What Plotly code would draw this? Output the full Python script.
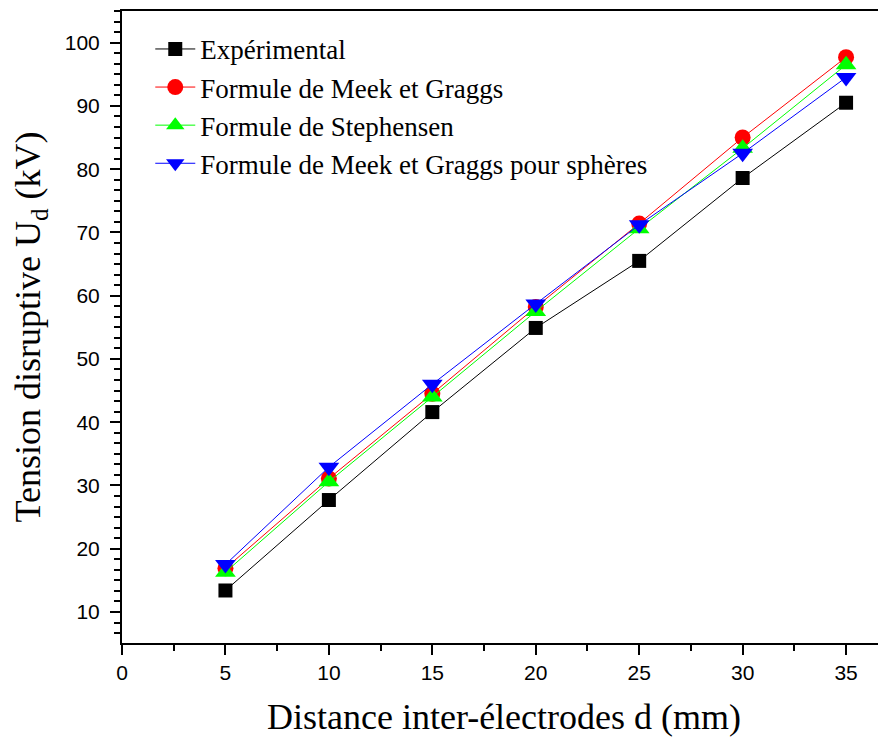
import plotly.graph_objs as go

distance = [5, 10, 15, 20, 25, 30, 35]
experimental = [13.4, 27.7, 41.6, 54.9, 65.5, 78.6, 90.5]
meek_graggs = [16.9, 31.1, 44.5, 58.2, 71.4, 85.0, 97.7]
stephensen = [16.3, 30.6, 44.0, 57.5, 70.6, 83.3, 96.5]
meek_graggs_spheres = [17.5, 32.9, 46.0, 58.7, 71.2, 82.5, 94.5]

series = [
    ("Expérimental", experimental, "black", "square", 14),
    ("Formule de Meek et Graggs", meek_graggs, "red", "circle", 16),
    ("Formule de Stephensen", stephensen, "#00ff00", "triangle-up", 18),
    ("Formule de Meek et Graggs pour sphères", meek_graggs_spheres, "blue", "triangle-down", 18),
]

fig = go.Figure()
for name, vals, col, sym, size in series:
    fig.add_trace(go.Scatter(
        x=distance,
        y=vals,
        name=name,
        mode='lines+markers',
        line=dict(color=col, width=1),
        marker=dict(symbol=sym, size=size, color=col),
    ))

axis_common = dict(
    showline=True,
    linecolor='black',
    linewidth=2,
    ticks='outside',
    ticklen=10,
    tickwidth=2,
    tickcolor='black',
    showgrid=False,
    zeroline=False,
    automargin=False,
    tickfont=dict(family='Liberation Sans, Arial', size=21, color='black'),
)

fig.update_xaxes(
    range=[0, 36.93],
    dtick=5,
    tick0=0,
    mirror=True,
    minor=dict(dtick=2.5, ticks='outside', ticklen=6, tickwidth=2, tickcolor='black'),
    title=dict(text='Distance inter-électrodes d (mm)',
               font=dict(family='Liberation Serif, Times New Roman', size=36, color='black'),
               standoff=21),
    **axis_common,
)
fig.update_yaxes(
    range=[5.1, 105],
    dtick=10,
    tick0=10,
    ticklabelstandoff=6,
    minor=dict(dtick=10 / 6, tick0=10, ticks='outside', ticklen=6, tickwidth=2, tickcolor='black'),
    title=dict(text='Tension disruptive U<sub>d</sub> (kV)',
               font=dict(family='Liberation Serif, Times New Roman', size=36, color='black'),
               standoff=28),
    **axis_common,
)

# page body adds an 8px offset, so the figure is drawn 8px smaller
fig.update_layout(
    width=878,
    height=732,
    margin=dict(l=114, r=0, t=3, b=97),
    plot_bgcolor='white',
    paper_bgcolor='white',
    showlegend=True,
    legend=dict(
        x=0.037, y=0.978, xanchor='left', yanchor='top',
        bgcolor='rgba(0,0,0,0)',
        font=dict(family='Liberation Serif, Times New Roman', size=27, color='black'),
        itemwidth=40,
    ),
)

fig.write_html("out.html")
